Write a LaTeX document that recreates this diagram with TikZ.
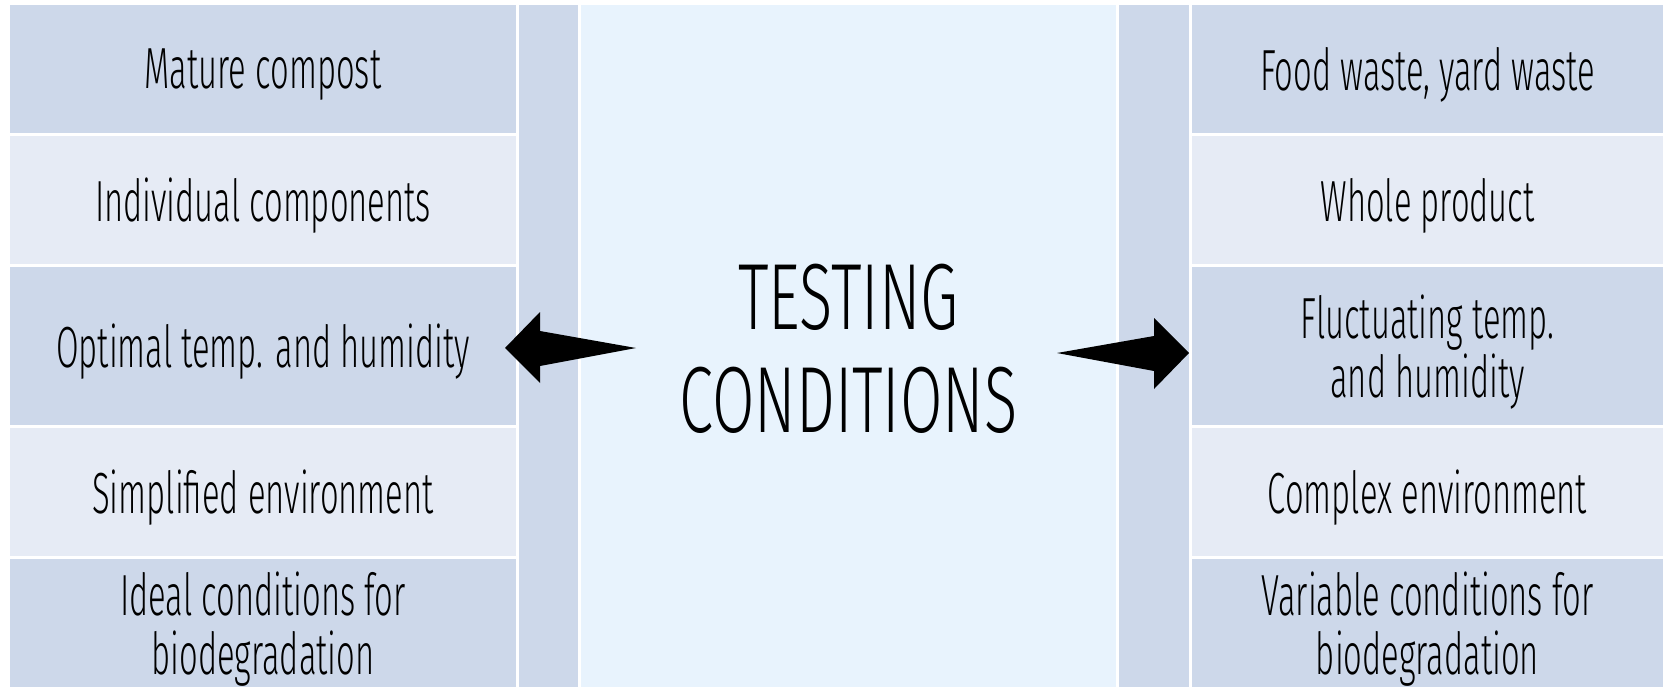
\documentclass[tikz,border=0pt]{standalone}
\usepackage{fontspec}
\setmainfont{Fira Sans Light}[FakeStretch=0.565]
\newfontfamily\titlefont{Fira Sans Light}[FakeStretch=0.655]
\usetikzlibrary{positioning,calc}
\definecolor{cellDark}{HTML}{CDD8EA}
\definecolor{cellLight}{HTML}{E6EBF5}
\definecolor{panelBlue}{HTML}{E8F3FD}
\tikzset{
  cell/.style={inner sep=0pt, outer sep=0pt, align=center, minimum width=506pt,
    text depth=0pt, font=\fontsize{58}{58.5}\selectfont},
  bar/.style={inner sep=0pt, outer sep=0pt, fill=cellDark, minimum height=682.5pt},
}

\begin{document}
\begin{tikzpicture}[x=1pt, y=-1pt]
\useasboundingbox (0,0) rectangle (1671,688);

            % side bars and middle panel
            \node[bar, minimum width=59pt] (lbar) at (548.5,345.75) {};
            \node[bar, minimum width=70pt] (rbar) at (1154,345.75) {};
            \node[bar, fill=panelBlue, minimum width=535pt] (mid) at (848.5,345.75) {};
            \node[align=center, inner sep=0pt, font=\titlefont\fontsize{94}{103}\selectfont]
              (title) at (848.5,348.5) {TESTING\\CONDITIONS};

            % left column
            \node[cell, fill=cellDark, minimum height=128.5pt] (l1) at (263,68.75) {Mature compost};
            \node[cell, fill=cellLight, minimum height=128pt] (l2) at (263,200) {Individual components};
            \node[cell, fill=cellDark, minimum height=158pt] (l3) at (263,346) {Optimal temp. and humidity};
            \node[cell, fill=cellLight, minimum height=128pt] (l4) at (263,492) {Simplified environment};
            \node[cell, fill=cellDark, minimum height=128pt] (l5) at (263,623) {Ideal conditions for\\biodegradation};

            % right column
            \node[cell, fill=cellDark, minimum width=471pt, minimum height=128.5pt] (r1) at (1427.5,68.75) {Food waste, yard waste};
            \node[cell, fill=cellLight, minimum width=471pt, minimum height=128pt] (r2) at (1427.5,200) {Whole product};
            \node[cell, fill=cellDark, minimum width=471pt, minimum height=158pt] (r3) at (1427.5,346) {Fluctuating temp.\\and humidity};
            \node[cell, fill=cellLight, minimum width=471pt, minimum height=128pt] (r4) at (1427.5,492) {Complex environment};
            \node[cell, fill=cellDark, minimum width=471pt, minimum height=128pt] (r5) at (1427.5,623) {Variable conditions for\\biodegradation};

            % arrows
            \coordinate (ltail) at (636,348);
            \coordinate (ltip) at (505,348);
            \coordinate (rtail) at (1057,353);
            \coordinate (rtip) at (1189,353);
            \fill (ltip) -- ++(35,-36) -- ++(0,19) -- (ltail) -- ($(ltip)+(35,18)$) -- ++(0,17) -- cycle;
            \fill (rtip) -- ++(-35,-35) -- ++(0,18) -- (rtail) -- ($(rtip)+(-35,18)$) -- ++(0,18) -- cycle;

        \end{tikzpicture}
\end{document}
